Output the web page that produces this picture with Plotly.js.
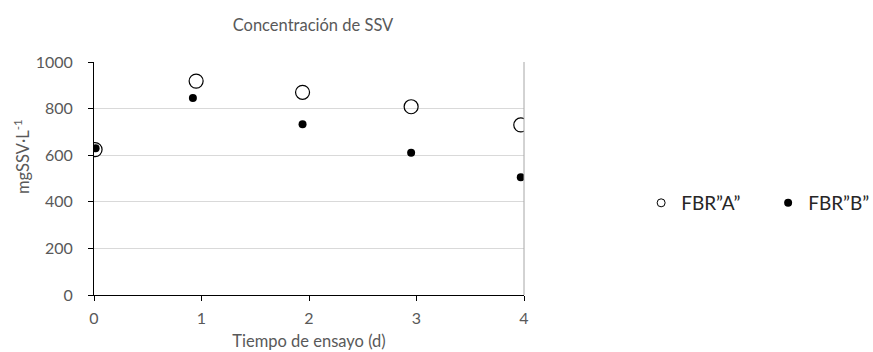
<!DOCTYPE html>
<html>
<head>
<meta charset="utf-8">
<script src="https://cdn.plot.ly/plotly-3.0.1.min.js"></script>
<style>html,body{margin:0;padding:0;background:#fff;}#chart{width:873px;height:352px;}</style>
</head>
<body>
<div id="chart"></div>
<script>
const dayA = [0.01, 0.95, 1.94, 2.95, 3.97];
const ssvA = [624, 918, 870, 808, 730];
const dayB = [0.015, 0.92, 1.94, 2.95, 3.97];
const ssvB = [630, 845, 733, 611, 505];
const seriesNames = ['FBR\u201DA\u201D', 'FBR\u201DB\u201D'];
const xTicks = [0, 1, 2, 3, 4];
const yTicks = [0, 200, 400, 600, 800, 1000];
const chartTitle = 'Concentración de SSV';
const xTitle = 'Tiempo de ensayo (d)';
const yTitle = 'mgSSV·L<sup>-1</sup>';

const font = 'Lato, "Open Sans", sans-serif';
const grey = '#595959';

const traces = [
  {x: dayA, y: ssvA, name: seriesNames[0], type: 'scatter', mode: 'markers', showlegend: false,
   marker: {symbol: 'circle-open', size: 14, color: '#000', line: {width: 1.2, color: '#000'}}},
  {x: dayB, y: ssvB, name: seriesNames[1], type: 'scatter', mode: 'markers', showlegend: false,
   marker: {symbol: 'circle', size: 8, color: '#000'}},
  // legend entries (smaller symbols, as in the reference legend)
  {x: [null], y: [null], name: seriesNames[0], type: 'scatter', mode: 'markers',
   marker: {symbol: 'circle-open', size: 8, color: '#000', line: {width: 1, color: '#000'}}},
  {x: [null], y: [null], name: seriesNames[1], type: 'scatter', mode: 'markers',
   marker: {symbol: 'circle', size: 8, color: '#000'}}
];

const layout = {
  width: 873, height: 352,
  margin: {l: 94, r: 349, t: 62, b: 57, autoexpand: false},
  paper_bgcolor: '#fff', plot_bgcolor: '#fff',
  font: {family: font, color: grey, size: 16},
  title: {text: chartTitle, font: {family: font, size: 16.5, color: grey},
          x: 313/873, xanchor: 'center', y: 1 - 25/352, yanchor: 'middle'},
  xaxis: {range: [0, 4], tickvals: xTicks, showgrid: false, zeroline: false,
          showline: true, linecolor: '#000', linewidth: 1,
          ticks: 'outside', ticklen: 5, tickcolor: '#000', tickwidth: 1,
          ticklabelstandoff: 4,
          tickfont: {family: font, size: 16, color: grey},
          title: {text: xTitle, font: {family: font, size: 16.5, color: grey}, standoff: 9}},
  yaxis: {range: [0, 1000], tickvals: yTicks, showgrid: true, gridcolor: '#d9d9d9', gridwidth: 1,
          zeroline: false, showline: true, linecolor: '#000', linewidth: 1,
          ticks: 'outside', ticklen: 5, tickcolor: '#000', tickwidth: 1,
          ticklabelstandoff: 12,
          tickfont: {family: font, size: 16, color: grey}},
  annotations: [
    {text: yTitle, xref: 'paper', yref: 'paper', x: (22 - 94) / 430, y: (295 - 157) / 233,
     xanchor: 'center', yanchor: 'middle', textangle: -90, showarrow: false,
     font: {family: font, size: 16.5, color: grey}}
  ],
  shapes: [
    {type: 'line', xref: 'paper', yref: 'paper', x0: 1, x1: 1, y0: 0, y1: 1,
     line: {color: '#a6a6a6', width: 1}}
  ],
  showlegend: true,
  legend: {orientation: 'h', x: 1.2724, xanchor: 'left', y: 0.395, yanchor: 'middle',
           font: {family: font, size: 19, color: '#262626'}, itemwidth: 30,
           entrywidth: 82, entrywidthmode: 'pixels',
           bgcolor: 'rgba(0,0,0,0)'}
};

Plotly.newPlot('chart', traces, layout, {displayModeBar: false, staticPlot: true});
</script>
</body>
</html>
